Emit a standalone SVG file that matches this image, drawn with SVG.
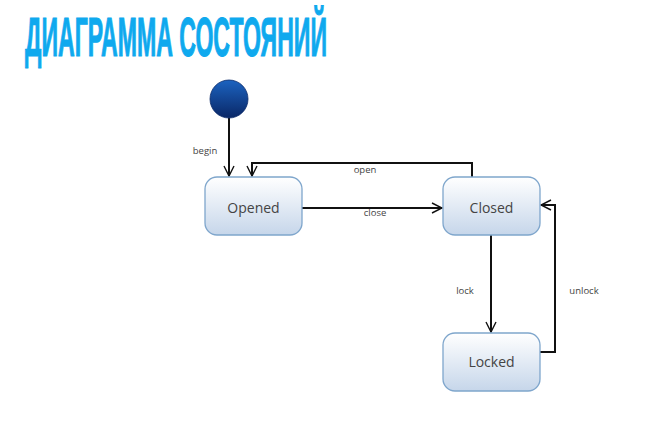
<svg xmlns="http://www.w3.org/2000/svg" width="653" height="424" viewBox="0 0 653 424">
<style>
.title{font-family:"Liberation Sans Narrow","Liberation Sans","DejaVu Sans Condensed",sans-serif;font-weight:bold;fill:#0fa9ee;stroke:#0fa9ee;stroke-width:1.2}
.state rect{fill:url(#sg);stroke:#7fa6cc;stroke-width:1.3}
.state text{font-family:"Open Sans","Noto Sans","DejaVu Sans",sans-serif;font-size:14px;fill:#444;text-anchor:middle}
.edge{fill:none;stroke:#111;stroke-width:2}
.lbl{font-family:"Open Sans","Noto Sans","DejaVu Sans",sans-serif;font-size:9.5px;fill:#444;text-anchor:middle}
</style>
<defs>
<linearGradient id="sg" x1="0" y1="0" x2="0" y2="1">
<stop offset="0" stop-color="#ffffff"/>
<stop offset="1" stop-color="#c6d6ea"/>
</linearGradient>
<linearGradient id="ig" x1="0" y1="0" x2="0" y2="1">
<stop offset="0" stop-color="#1c63c0"/>
<stop offset="1" stop-color="#0a2766"/>
</linearGradient>
<marker id="arr" markerWidth="12" markerHeight="12" viewBox="0 0 12 12" refX="11" refY="6" orient="auto" markerUnits="userSpaceOnUse">
<path d="M1,1 L11,6 L1,11" fill="none" stroke="#111" stroke-width="1.4"/>
</marker>
</defs>
<rect width="653" height="424" fill="#fff"/>
<text class="title" transform="translate(25,56) scale(0.5,1)" x="0" y="0" font-size="56" textLength="604" lengthAdjust="spacingAndGlyphs">ДИАГРАММА СОСТОЯНИЙ</text>
<g id="connectors">
<path class="edge" d="M229,118 V176" marker-end="url(#arr)"/>
<path class="edge" d="M472,177 V163 H252 V176" marker-end="url(#arr)"/>
<path class="edge" d="M302,208 H442" marker-end="url(#arr)"/>
<path class="edge" d="M491,235 V332" marker-end="url(#arr)"/>
<path class="edge" d="M540,352 H555 V205 H541" marker-end="url(#arr)"/>
<text class="lbl" x="205" y="154">begin</text>
<text class="lbl" x="365" y="173">open</text>
<text class="lbl" x="375" y="216">close</text>
<text class="lbl" x="465" y="294">lock</text>
<text class="lbl" x="584" y="294">unlock</text>
</g>
<g id="initial"><circle cx="229" cy="99" r="19" fill="url(#ig)" stroke="#0a2a6a" stroke-width="0.8"/></g>
<g id="opened" class="state"><rect x="205" y="177" width="97" height="58" rx="12"/><text x="253.5" y="213">Opened</text></g>
<g id="closed" class="state"><rect x="443" y="177" width="97" height="58" rx="12"/><text x="491.5" y="213">Closed</text></g>
<g id="locked" class="state"><rect x="443" y="333" width="97" height="58" rx="12"/><text x="491.5" y="367">Locked</text></g>
</svg>
